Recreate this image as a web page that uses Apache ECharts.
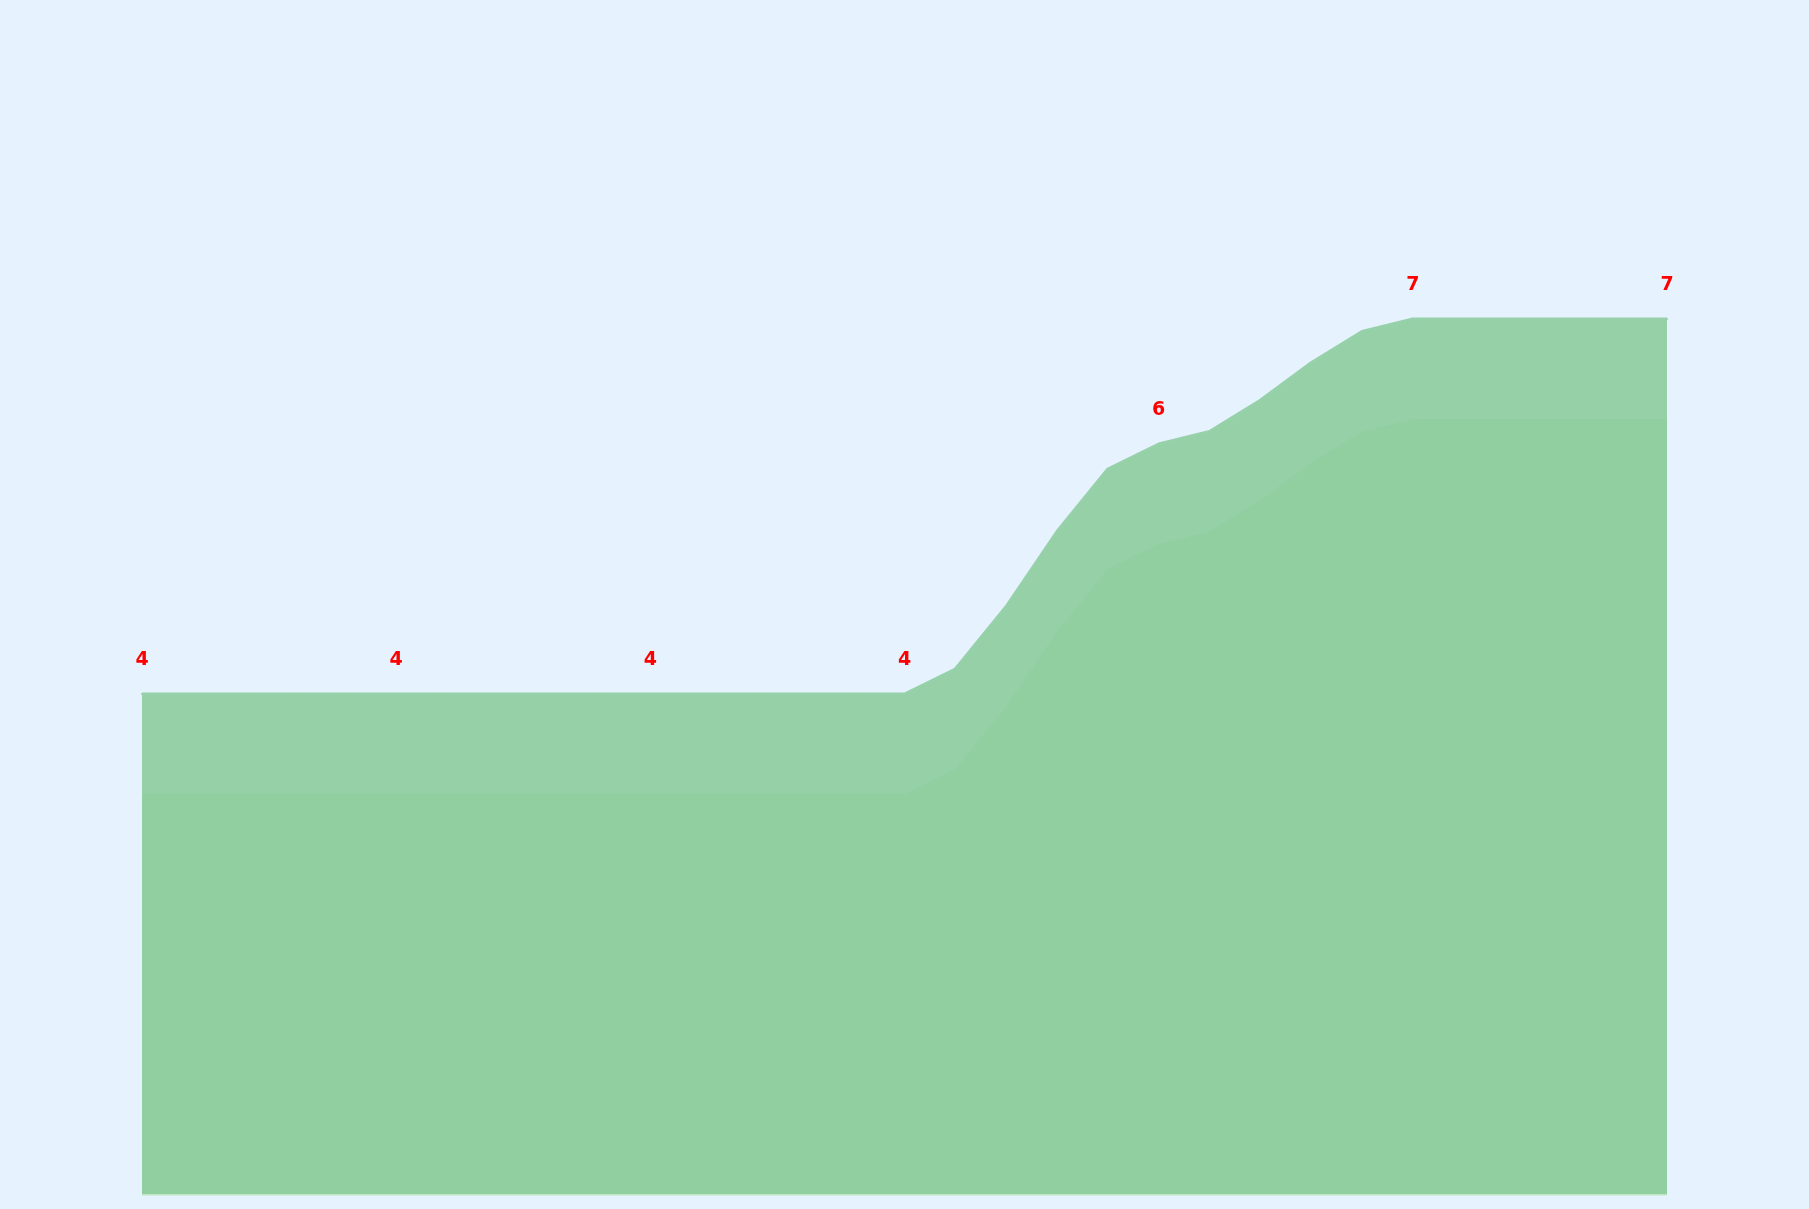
<!doctype html>
<html lang="en">
<head>
    <meta charset="UTF-8">
    <script src="https://cdn.jsdelivr.net/npm/echarts@6/dist/echarts.min.js"></script>
    <title>area</title>
    <style>
        html, body { margin: 0; padding: 0; background: #e6f2fe; }
    </style>
</head>
<body>
<div id="main" style="width: 1809px;height:1209px;"></div>
<script>
    // x categories (31 points, no visible axis)
    var categories = [];
    for (var i = 0; i < 31; i++) {
        categories.push(String(i));
    }
    // values
    var values = [4, 4, 4, 4, 4, 4, 4, 4, 4, 4,
                  4, 4, 4, 4, 4, 4, 4.2, 4.7, 5.3, 5.8,
                  6, 6.1, 6.35, 6.65, 6.9, 7, 7, 7, 7, 7, 7];
    // only every 5th point gets a label
    var labelEvery = 5;

    var myChart = echarts.init(document.getElementById('main'));
    var option = {
        backgroundColor: '#e6f2fe',
        animation: false,
        grid: {
            left: 142,
            right: 142,
            top: 194,
            bottom: 15
        },
        xAxis: {
            type: 'category',
            data: categories,
            boundaryGap: false,
            show: false
        },
        yAxis: {
            type: 'value',
            min: 0,
            max: 8,
            show: false
        },
        series: [
            {
                type: 'line',
                data: values,
                symbol: 'circle',
                symbolSize: 2,
                itemStyle: {
                    color: '#96d1a9'
                },
                lineStyle: {
                    color: '#96d1a9',
                    width: 3
                },
                areaStyle: {
                    color: 'rgb(140,204,157)',
                    opacity: 0.9,
                    shadowColor: 'rgba(150,222,134,0.56)',
                    shadowOffsetY: 100
                },
                label: {
                    show: true,
                    position: 'top',
                    distance: 23,
                    color: '#ff0000',
                    fontFamily: 'DejaVu Sans',
                    fontWeight: 'bold',
                    fontSize: 19,
                    formatter: function (p) {
                        return p.dataIndex % labelEvery === 0 ? String(Math.round(p.value)) : '';
                    }
                }
            }
        ]
    };
    myChart.setOption(option);
</script>
</body>
</html>
